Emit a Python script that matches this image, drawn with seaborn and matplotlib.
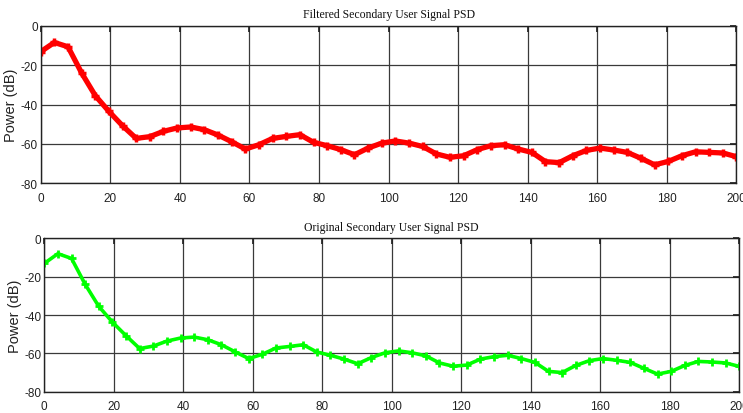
import numpy as np
import pandas as pd
import matplotlib
matplotlib.use("Agg")
import matplotlib.pyplot as plt
import seaborn as sns

# ---- data ----
freq = np.linspace(0, 200, 52)
filtered_psd = [-13.2, -8.5, -10.7, -24.0, -35.5, -43.5, -50.8, -57.2, -56.3, -53.6,
                -51.9, -51.4, -52.8, -55.5, -58.9, -62.6, -60.4, -57.2, -56.2, -55.3,
                -59.2, -60.9, -62.9, -65.5, -62.1, -59.6, -58.5, -59.6, -61.3, -65.1,
                -66.8, -66.0, -62.9, -60.9, -60.4, -62.6, -64.3, -69.0, -69.5, -66.0,
                -63.3, -62.1, -63.1, -64.3, -67.3, -70.6, -68.9, -66.0, -64.0, -64.3,
                -64.6, -66.5]
original_psd = [-13.1, -8.0, -10.5, -24.0, -35.5, -43.7, -50.8, -57.5, -56.2, -53.6,
                -52.0, -51.5, -52.9, -55.5, -59.2, -62.7, -60.5, -57.2, -56.4, -55.5,
                -59.3, -61.0, -63.0, -65.4, -62.2, -59.7, -58.7, -59.7, -61.3, -65.0,
                -66.7, -66.1, -63.0, -61.7, -61.0, -62.7, -64.7, -69.4, -70.0, -66.3,
                -63.8, -62.7, -63.6, -64.7, -67.8, -70.8, -69.4, -66.3, -64.2, -64.5,
                -65.0, -66.8]
x_ticks = [0, 20, 40, 60, 80, 100, 120, 140, 160, 180, 200]
y_ticks = [0, -20, -40, -60, -80]
titles = ["Filtered Secondary User Signal PSD", "Original Secondary User Signal PSD"]
ylabel = "Power (dB)"

df_f = pd.DataFrame({"f": freq, "p": filtered_psd})
df_o = pd.DataFrame({"f": freq, "p": original_psd})

sns.set_theme(style="white")
plt.rcParams["font.family"] = ["Liberation Sans", "DejaVu Sans"]
plt.rcParams["axes.unicode_minus"] = False

fig = plt.figure(figsize=(7.43, 4.14), dpi=100)
ax1 = fig.add_axes([0.0548, 0.5548, 0.9364, 0.3807])
ax2 = fig.add_axes([0.0596, 0.0514, 0.9354, 0.3705])

sns.lineplot(data=df_f, x="f", y="p", ax=ax1, color="#FF0000", linewidth=3.8,
             marker="+", markersize=6, markeredgewidth=2.5, markeredgecolor="#FF0000")
sns.lineplot(data=df_o, x="f", y="p", ax=ax2, color="#00FF00", linewidth=2.6,
             marker="+", markersize=6, markeredgewidth=2, markeredgecolor="#00FF00")

label_x = [-0.033, -0.032]
for ax, t, lx in zip([ax1, ax2], titles, label_x):
    ax.set_xlim(0, 200)
    ax.set_ylim(-80, 0)
    ax.set_xticks(x_ticks)
    ax.set_yticks(y_ticks)
    ax.grid(True, color="#3a3a3a", linewidth=0.9)
    ax.set_axisbelow(True)
    for s in ax.spines.values():
        s.set_color("#222222")
        s.set_linewidth(1.0)
    ax.tick_params(axis="both", direction="in", labelsize=8.5, colors="#222222",
                   length=4, top=True, right=True)
    ax.tick_params(axis="x", pad=6)
    ax.tick_params(axis="y", pad=2)
    ax.set_xlabel("")
    ax.set_ylabel(ylabel, fontsize=10.5, color="#222222")
    ax.yaxis.set_label_coords(lx, 0.5)
    ax.set_title(t, family=["Liberation Serif"], fontsize=8.5, color="#111111", pad=6)

fig.savefig("out.png", dpi=100, facecolor="white")
